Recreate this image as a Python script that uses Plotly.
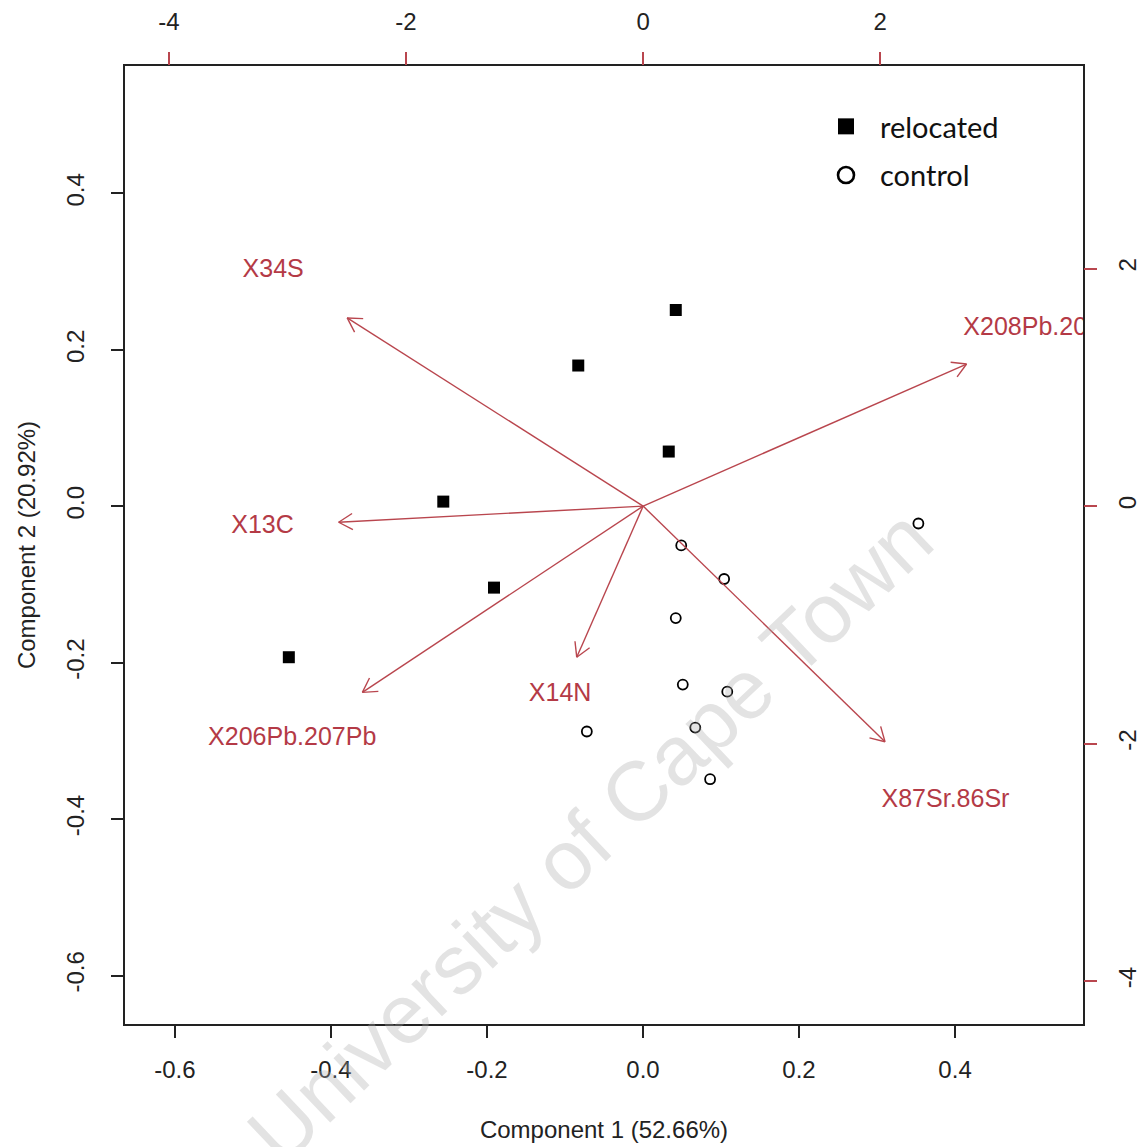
import numpy as np
import plotly.graph_objects as go

# ---- data ----
reloc_x = [0.042, -0.083, 0.033, -0.256, -0.191, -0.454]
reloc_y = [0.251, 0.180, 0.070, 0.006, -0.104, -0.193]

ctrl_x = [0.353, 0.049, 0.104, 0.042, 0.051, 0.108, 0.067, -0.072, 0.086]
ctrl_y = [-0.022, -0.050, -0.093, -0.143, -0.228, -0.237, -0.283, -0.288, -0.349]

var_names = ["X34S", "X208Pb.206Pb", "X13C", "X206Pb.207Pb", "X14N", "X87Sr.86Sr"]
load_x = [-3.12, 3.41, -3.21, -2.96, -0.70, 2.55]
load_y = [1.98, 1.495, -0.17, -1.96, -1.59, -2.48]
arrow_frac = 0.8  # arrows drawn to 0.8 of the loading, labels at the loading

xticks_bottom = [-0.6, -0.4, -0.2, 0.0, 0.2, 0.4]
yticks_left = [-0.6, -0.4, -0.2, 0.0, 0.2, 0.4]
ticks_top = [-4, -2, 0, 2]
ticks_right = [-4, -2, 0, 2]

# ---- layout geometry ----
FIG = 1147
ML, MR, MT, MB = 125, 64, 66, 123
W = FIG - ML - MR
H = FIG - MT - MB
x_range = [-0.664, 0.564]
y_range = [-0.662, 0.563]
x2_range = [-4.37, 3.71]
y2_range = [-4.36, 3.705]

RED = "rgb(185,70,78)"
LABRED = "rgb(180,58,70)"
AXFONT = "Liberation Sans, Arial, sans-serif"

fig = go.Figure()

# arrows (shafts)
tips_x = [arrow_frac * v for v in load_x]
tips_y = [arrow_frac * v for v in load_y]
sx_ = []
sy_ = []
for tx, ty in zip(tips_x, tips_y):
    sx_ += [0, tx, None]
    sy_ += [0, ty, None]
fig.add_trace(go.Scatter(x=sx_, y=sy_, xaxis="x2", yaxis="y2", mode="lines",
                         line=dict(color=RED, width=1.4), showlegend=False,
                         hoverinfo="skip", cliponaxis=False))

# arrow heads: open V, computed in pixel space
sx = W / (x2_range[1] - x2_range[0])
sy = H / (y2_range[1] - y2_range[0])
L = 16
hx, hy = [], []
for tx, ty in zip(tips_x, tips_y):
    ang = np.arctan2(ty * sy, tx * sx)
    for s in (1, -1):
        a = ang + np.pi + s * np.pi / 6
        hx += [tx, tx + L * np.cos(a) / sx, None]
        hy += [ty, ty + L * np.sin(a) / sy, None]
fig.add_trace(go.Scatter(x=hx, y=hy, xaxis="x2", yaxis="y2", mode="lines",
                         line=dict(color=RED, width=1.4), showlegend=False,
                         hoverinfo="skip", cliponaxis=False))

# variable labels (clipped to the plot area like the reference)
fig.add_trace(go.Scatter(x=load_x, y=load_y, xaxis="x2", yaxis="y2", mode="text",
                         text=var_names, textposition="middle center",
                         textfont=dict(family=AXFONT, size=25, color=LABRED),
                         showlegend=False, hoverinfo="skip", cliponaxis=True))

# points
fig.add_trace(go.Scatter(x=reloc_x, y=reloc_y, mode="markers", name="relocated",
                         marker=dict(symbol="square", size=12, color="black",
                                     line=dict(width=0)),
                         showlegend=False))
fig.add_trace(go.Scatter(x=ctrl_x, y=ctrl_y, mode="markers", name="control",
                         marker=dict(symbol="circle-open", size=10, color="black",
                                     line=dict(width=1.8, color="black")),
                         showlegend=False))

# legend entries (bigger symbols as in the reference)
fig.add_trace(go.Scatter(x=[None], y=[None], mode="markers", name="relocated",
                         marker=dict(symbol="square", size=16, color="black"),
                         legendgroup="a"))
fig.add_trace(go.Scatter(x=[None], y=[None], mode="markers", name="control",
                         marker=dict(symbol="circle-open", size=19, color="black",
                                     line=dict(width=2.6, color="black")),
                         legendgroup="b"))

# watermark
fig.add_annotation(text="University of Cape Town", xref="paper", yref="paper",
                   x=(590 - ML) / W, y=(FIG - MB - 836) / H, showarrow=False,
                   xanchor="center", yanchor="middle",
                   textangle=-43.5,
                   font=dict(family=AXFONT, size=84, color="rgba(170,170,170,0.33)"))

tickfont = dict(family=AXFONT, size=24, color="#222222")
fig.update_layout(
    width=FIG, height=FIG,
    margin=dict(l=ML, r=MR, t=MT, b=MB, autoexpand=False),
    paper_bgcolor="white", plot_bgcolor="white",
    showlegend=True,
    legend=dict(x=(812 - ML) / W, y=(FIG - MB - 101) / H, xanchor="left", yanchor="top",
                bgcolor="rgba(0,0,0,0)", tracegroupgap=8, itemwidth=58,
                font=dict(family="Lato, Carlito, sans-serif", size=29, color="#111111")),
    xaxis=dict(range=x_range, tickvals=xticks_bottom,
               ticktext=[f"{v:.1f}" for v in xticks_bottom],
               ticks="outside", ticklen=12, tickwidth=1.5, tickcolor="#222",
               tickfont=tickfont, ticklabelstandoff=11, automargin=False,
               showgrid=False, zeroline=False,
               showline=True, linecolor="#222", linewidth=1.6, mirror=True,
               title=dict(text="Component 1 (52.66%)", font=tickfont, standoff=40)),
    yaxis=dict(range=y_range, tickvals=yticks_left,
               ticktext=[f"{v:.1f}" for v in yticks_left],
               ticks="outside", ticklen=12, tickwidth=1.5, tickcolor="#222",
               tickfont=tickfont, tickangle=-90, ticklabelstandoff=18, automargin=False,
               showgrid=False, zeroline=False,
               showline=True, linecolor="#222", linewidth=1.6, mirror=True,
               title=dict(text="Component 2 (20.92%)", font=tickfont, standoff=19)),
    xaxis2=dict(range=x2_range, overlaying="x", side="top", anchor="y",
                tickvals=ticks_top, ticktext=[str(v) for v in ticks_top],
                ticks="outside", ticklen=13, tickwidth=1.5, tickcolor=RED,
                tickfont=tickfont, ticklabelstandoff=12, automargin=False,
                showgrid=False, zeroline=False, showline=False),
    yaxis2=dict(range=y2_range, overlaying="y", side="right", anchor="x",
                tickvals=ticks_right, ticktext=[str(v) for v in ticks_right],
                ticks="outside", ticklen=13, tickwidth=1.5, tickcolor=RED,
                tickfont=tickfont, tickangle=-90, ticklabelstandoff=10, automargin=False,
                showgrid=False, zeroline=False, showline=False),
)

fig.write_html("out.html")
